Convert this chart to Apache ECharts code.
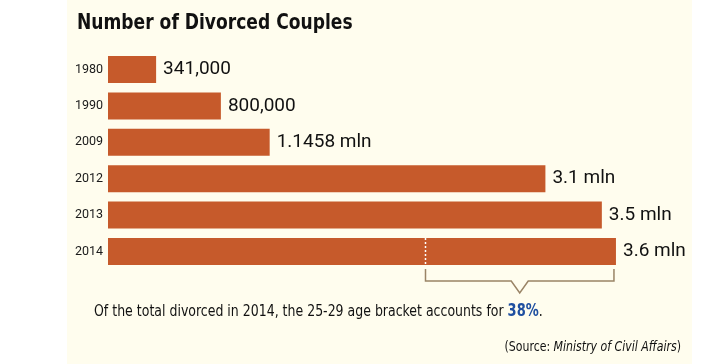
<!DOCTYPE html>
<html>
<head>
<meta charset="utf-8">
<script src="https://cdn.jsdelivr.net/npm/echarts@6/dist/echarts.min.js"></script>
<style>
html,body{margin:0;padding:0;background:#ffffff;}
#chart{width:715px;height:364px;}
</style>
</head>
<body>
<div id="chart"></div>
<script>
// ---- data ----
const years = ['1980', '1990', '2009', '2012', '2013', '2014'];
const divorces = [0.341, 0.8, 1.1458, 3.1, 3.5, 3.6]; // million couples
const valueLabels = ['341,000', '800,000', '1.1458 mln', '3.1 mln', '3.5 mln', '3.6 mln'];
const bracketYear = '2014';
const bracketStart = 2.25;   // where the 25-29 share begins on the 2014 bar (mln)
const bracketEnd = 3.6;
const shareText = '38%';

const chart = echarts.init(document.getElementById('chart'), null, {renderer: 'canvas'});
const barColor = '#c65a2b';
const bracketColor = '#9a8466';
const yearIdx = years.indexOf(bracketYear);
const narrow = '"Liberation Sans Narrow", "DejaVu Sans Condensed", "Roboto", sans-serif';

const option = {
  backgroundColor: '#ffffff',
  animation: false,
  graphic: [
    {type: 'rect', z: -10, silent: true, shape: {x: 67, y: 0, width: 625, height: 364}, style: {fill: '#fffdee'}},
    {type: 'text', x: 77, y: 23.5, scaleX: 0.885, style: {
      text: 'Number of Divorced Couples', fontFamily: narrow, fontWeight: 'bold', fontSize: 21.5,
      fill: '#111111', verticalAlign: 'middle', align: 'left'}},
    {type: 'text', x: 94, y: 312, scaleX: 0.85, style: {
      text: 'Of the total divorced in 2014, the 25-29 age bracket accounts for {b|' + shareText + '}.',
      fontFamily: narrow, fontSize: 16.4, fill: '#111111', verticalAlign: 'middle', align: 'left',
      rich: {b: {fontWeight: 'bold', fontSize: 17, fontFamily: narrow, fill: '#1f4fa0'}}
    }},
    {type: 'text', x: 681, y: 347, scaleX: 0.89, style: {
      text: '(Source: {i|Ministry of Civil Affairs})',
      fontFamily: narrow, fontSize: 13.7, fill: '#111111', verticalAlign: 'middle', align: 'right',
      rich: {i: {fontStyle: 'italic', fontSize: 13.7, fontFamily: narrow, fill: '#111111'}}
    }}
  ],
  grid: {left: 108, top: 51.3, height: 218.4, right: 42.6, containLabel: false},
  xAxis: {type: 'value', min: 0, max: 4, show: false},
  yAxis: {
    type: 'category', data: years, inverse: true,
    axisLine: {show: false}, axisTick: {show: false}, splitLine: {show: false},
    axisLabel: {fontSize: 12.5, fontFamily: 'Roboto', color: '#1a1a1a', margin: 5}
  },
  series: [
    {
      type: 'bar', data: divorces, barWidth: 27,
      itemStyle: {color: barColor},
      label: {
        show: true, position: 'right', distance: 7,
        formatter: p => valueLabels[p.dataIndex],
        fontSize: 19, fontFamily: 'Roboto', color: '#111111'
      }
    },
    {
      type: 'custom', coordinateSystem: 'cartesian2d', clip: false, z: 5,
      encode: {x: [0, 1], y: 2},
      data: [[bracketStart, bracketEnd, yearIdx]],
      renderItem: function (params, api) {
        const p0 = api.coord([api.value(0), api.value(2)]);
        const p1 = api.coord([api.value(1), api.value(2)]);
        const cy = p0[1];
        const x0 = Math.round(p0[0]) + 0.5;
        const x1 = p1[0] - 2;
        const top = cy + 17.5, mid = cy + 29.5, apex = cy + 41.5;
        const cx = (x0 + x1) / 2;
        return {
          type: 'group',
          children: [
            {type: 'line', shape: {x1: x0, y1: cy - 13.5, x2: x0, y2: cy + 13.5},
              style: {stroke: '#ffffff', lineWidth: 1.5, lineDash: [2, 2]}},
            {type: 'polyline', shape: {points: [
              [x0, top], [x0, mid], [cx - 8.5, mid], [cx, apex], [cx + 8.5, mid], [x1, mid], [x1, top]
            ]}, style: {stroke: bracketColor, lineWidth: 1.5, fill: null}}
          ]
        };
      }
    }
  ]
};
chart.setOption(option);
</script>
</body>
</html>
